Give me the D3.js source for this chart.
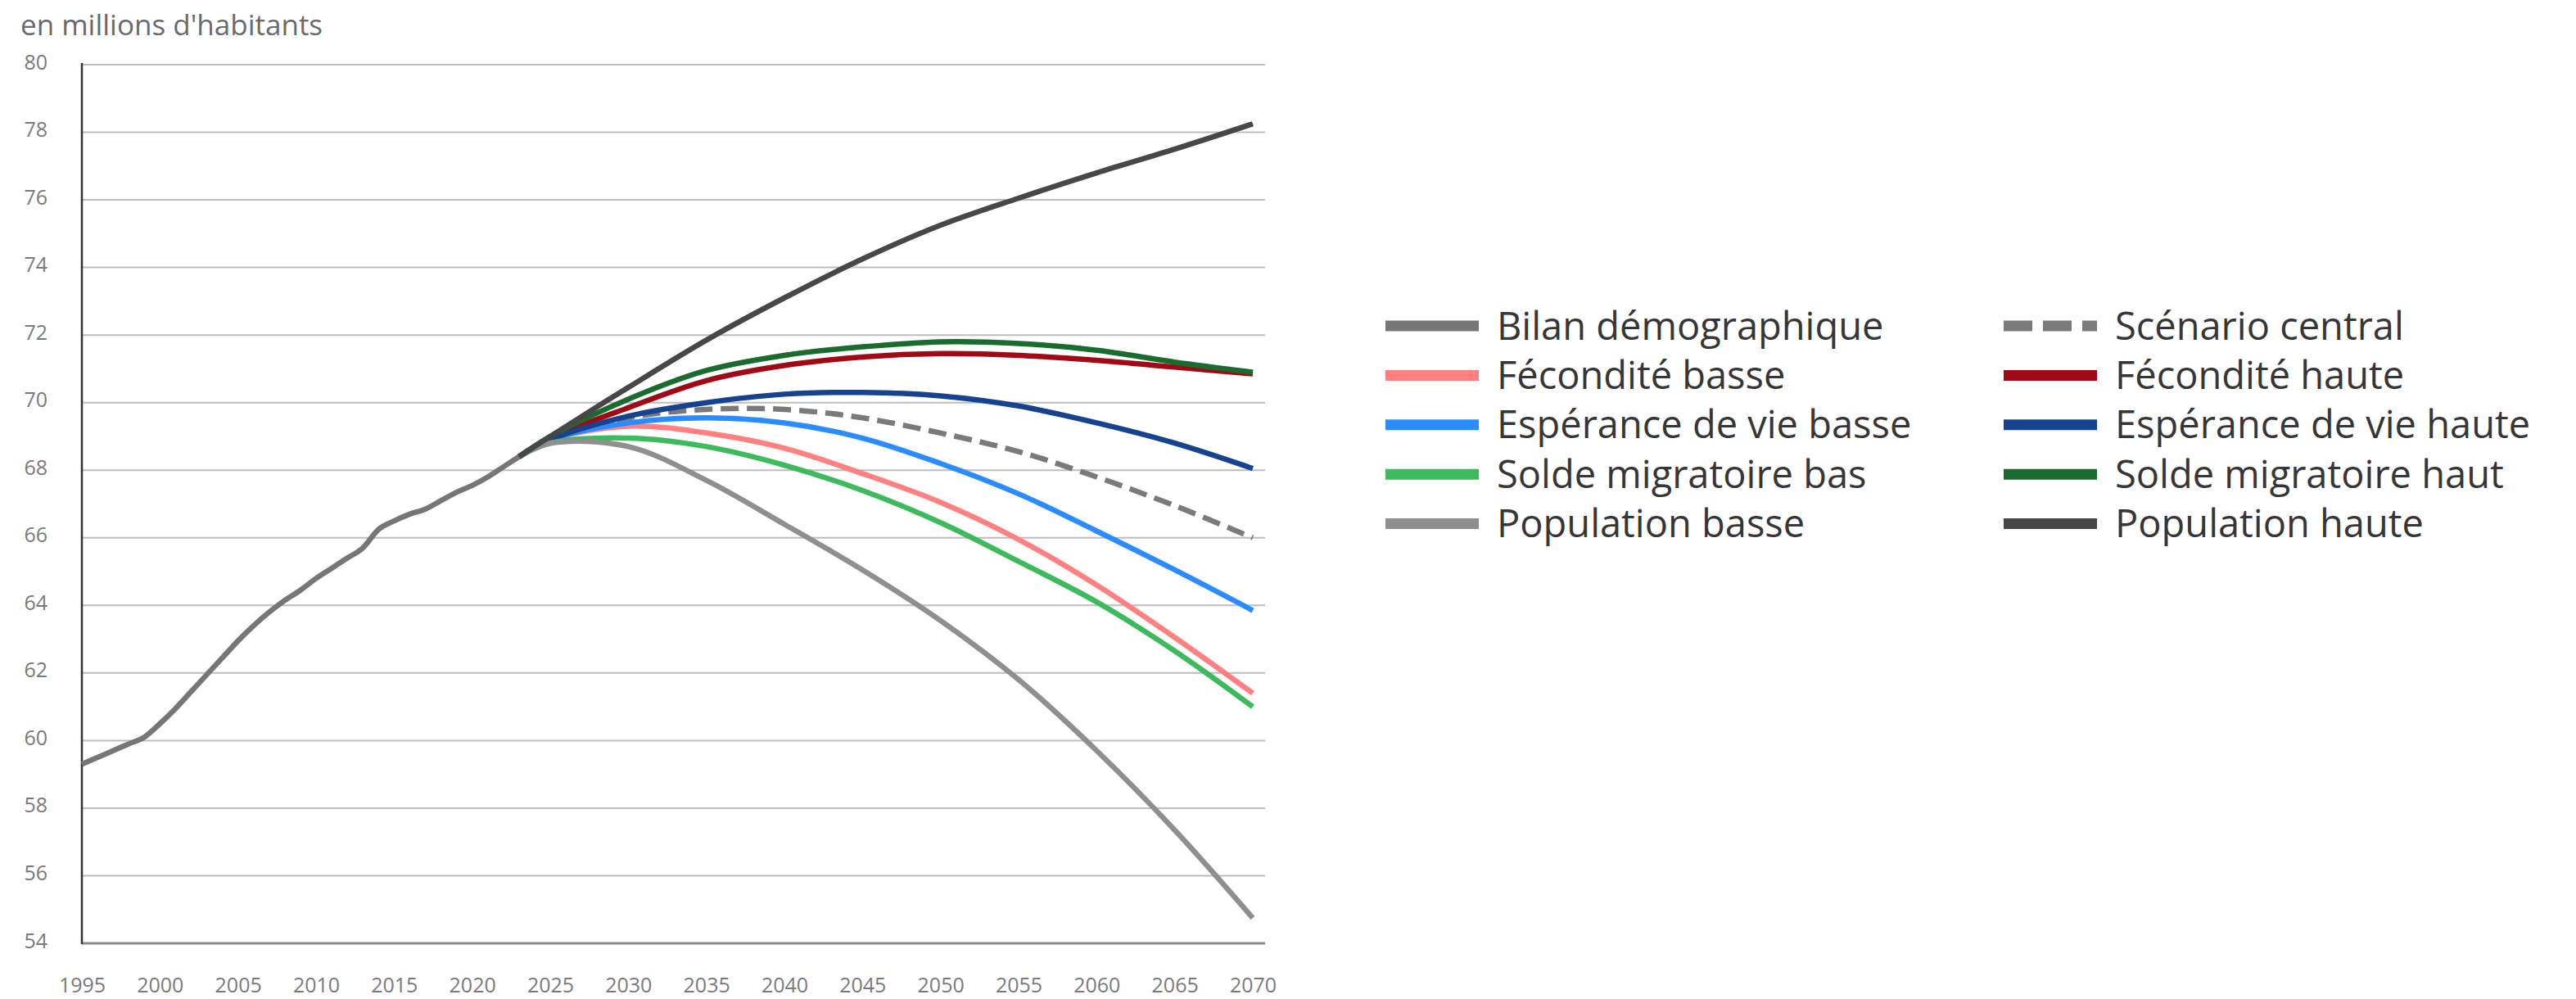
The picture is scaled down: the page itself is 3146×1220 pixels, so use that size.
<!DOCTYPE html>
<html>
<head>
<meta charset="utf-8">
<script src="https://cdn.jsdelivr.net/npm/d3@7"></script>
<style>
  html, body { margin: 0; padding: 0; background: #fff; }
  svg { display: block; font-family: "Open Sans", sans-serif; }
</style>
</head>
<body>
<svg id="chart" width="3146" height="1220"></svg>
<script>
// ---------- DATA ----------
const unitLabel = "en millions d'habitants";
const xTickYears = [1995, 2000, 2005, 2010, 2015, 2020, 2025, 2030, 2035, 2040, 2045, 2050, 2055, 2060, 2065, 2070];
const yTickValues = [54, 56, 58, 60, 62, 64, 66, 68, 70, 72, 74, 76, 78, 80];

const histYears = [1995,1996,1997,1998,1999,2000,2001,2002,2003,2004,2005,2006,2007,2008,2009,2010,2011,2012,2013,2014,2015,2016,2017,2018,2019,2020,2021,2022,2023];
const histValues = [59.3,59.5,59.7,59.9,60.1,60.5,60.95,61.45,61.95,62.45,62.95,63.4,63.8,64.15,64.45,64.8,65.1,65.4,65.7,66.25,66.5,66.7,66.85,67.1,67.35,67.55,67.8,68.1,68.4];

const projYears = [2023, 2025, 2030, 2035, 2040, 2045, 2050, 2055, 2060, 2065, 2070];
const scenarioCentral      = [68.4, 68.9, 69.55, 69.8, 69.8, 69.55, 69.1, 68.55, 67.8, 66.95, 66.0];
const feconditeBasse       = [68.4, 68.9, 69.3, 69.1, 68.65, 67.9, 67.05, 65.95, 64.6, 63.05, 61.4];
const feconditeHaute       = [68.4, 68.95, 69.85, 70.65, 71.1, 71.35, 71.45, 71.4, 71.25, 71.05, 70.85];
const esperanceBasse       = [68.4, 68.9, 69.4, 69.55, 69.4, 68.95, 68.2, 67.3, 66.2, 65.05, 63.85];
const esperanceHaute       = [68.4, 68.9, 69.6, 70.0, 70.25, 70.3, 70.2, 69.9, 69.4, 68.8, 68.05];
const soldeBas             = [68.4, 68.8, 68.95, 68.7, 68.15, 67.4, 66.45, 65.3, 64.1, 62.65, 61.0];
const soldeHaut            = [68.4, 69.0, 70.1, 70.95, 71.4, 71.65, 71.8, 71.75, 71.55, 71.2, 70.9];
const populationBasse      = [68.4, 68.8, 68.7, 67.7, 66.4, 65.05, 63.55, 61.8, 59.7, 57.35, 54.75];
const populationHaute      = [68.4, 69.0, 70.45, 71.85, 73.1, 74.25, 75.25, 76.05, 76.8, 77.5, 78.25];

const seriesNames  = ["Bilan démographique", "Scénario central", "Fécondité basse", "Fécondité haute",
                      "Espérance de vie basse", "Espérance de vie haute", "Solde migratoire bas",
                      "Solde migratoire haut", "Population basse", "Population haute"];
const seriesColors = ["#767676", "#7a7a7a", "#ff8080", "#a00a16", "#2a8cff", "#17428f", "#3dba5c", "#1a6b2e", "#8f8f8f", "#474747"];
const seriesDashed = [false, true, false, false, false, false, false, false, false, false];

// ---------- BUILD ----------
const series = [
  {values: histValues, years: histYears},
  {values: scenarioCentral, years: projYears},
  {values: feconditeBasse, years: projYears},
  {values: feconditeHaute, years: projYears},
  {values: esperanceBasse, years: projYears},
  {values: esperanceHaute, years: projYears},
  {values: soldeBas, years: projYears},
  {values: soldeHaut, years: projYears},
  {values: populationBasse, years: projYears},
  {values: populationHaute, years: projYears}
].map((s, i) => ({
  name: seriesNames[i], color: seriesColors[i], dashed: seriesDashed[i], hist: i === 0,
  points: s.years.map((y, j) => ({year: y, value: s.values[j]}))
}));

const svg = d3.select("#chart");
const plotLeft = 100, plotRight = 1530, gridRight = 1545, plotTop = 79, plotBottom = 1152;

const x = d3.scaleLinear().domain([1995, 2070]).range([plotLeft, plotRight]);
const y = d3.scaleLinear().domain([54, 80]).range([plotBottom, plotTop]);

// title
svg.append("text").attr("x", 25).attr("y", 43)
  .attr("font-size", 35).attr("fill", "#6a6a6a").text(unitLabel);

// gridlines
svg.append("g").selectAll("line").data(yTickValues.filter(v => v !== 54)).join("line")
  .attr("x1", plotLeft).attr("x2", gridRight)
  .attr("y1", d => y(d)).attr("y2", d => y(d))
  .attr("stroke", "#bdbdbd").attr("stroke-width", 2);

// y axis labels
const yAxis = d3.axisLeft(y).tickValues(yTickValues).tickSize(0).tickPadding(0).tickFormat(d3.format("d"));
const gy = svg.append("g").attr("transform", `translate(58,-3)`).call(yAxis);
gy.select(".domain").remove();
gy.selectAll("text").attr("font-size", 25).attr("fill", "#7a7a7a").attr("font-family", "Open Sans");

// x axis labels
const xAxis = d3.axisBottom(x).tickValues(xTickYears).tickSize(0).tickPadding(0).tickFormat(d3.format("d"));
const gx = svg.append("g").attr("transform", `translate(0,1194)`).call(xAxis);
gx.select(".domain").remove();
gx.selectAll("text").attr("font-size", 25).attr("fill", "#7a7a7a").attr("font-family", "Open Sans");

// baseline & left axis
svg.append("line").attr("x1", plotLeft).attr("x2", gridRight)
  .attr("y1", y(54)).attr("y2", y(54)).attr("stroke", "#8a8a8a").attr("stroke-width", 3);
svg.append("line").attr("x1", plotLeft).attr("x2", plotLeft)
  .attr("y1", plotTop - 2).attr("y2", y(54) + 1).attr("stroke", "#333").attr("stroke-width", 2.5);

// lines
const histLine = d3.line().x(d => x(d.year)).y(d => y(d.value)).curve(d3.curveMonotoneX);
const projLine = d3.line().x(d => x(d.year)).y(d => y(d.value)).curve(d3.curveCatmullRom.alpha(0.5));
svg.append("g").selectAll("path").data(series).join("path")
  .attr("d", d => (d.hist ? histLine : projLine)(d.points))
  .attr("fill", "none")
  .attr("stroke", d => d.color)
  .attr("stroke-width", 6.5)
  .attr("stroke-linejoin", "round")
  .attr("stroke-dasharray", d => d.dashed ? "22,10" : null);

// legend
const legend = svg.append("g");
const colX = [1692, 2447], rowY0 = 398, rowStep = 60.4, swatchW = 114;
series.forEach((s, i) => {
  const col = i % 2, row = Math.floor(i / 2);
  const gx0 = colX[col], gy0 = rowY0 + row * rowStep;
  legend.append("line").attr("x1", gx0).attr("x2", gx0 + swatchW)
    .attr("y1", gy0).attr("y2", gy0)
    .attr("stroke", s.color).attr("stroke-width", 13)
    .attr("stroke-dasharray", s.dashed ? "35,13" : null);
  legend.append("text").attr("x", gx0 + swatchW + 22).attr("y", gy0 + 16.5)
    .attr("font-size", 47).attr("fill", "#363636").text(s.name);
});
</script>
</body>
</html>
